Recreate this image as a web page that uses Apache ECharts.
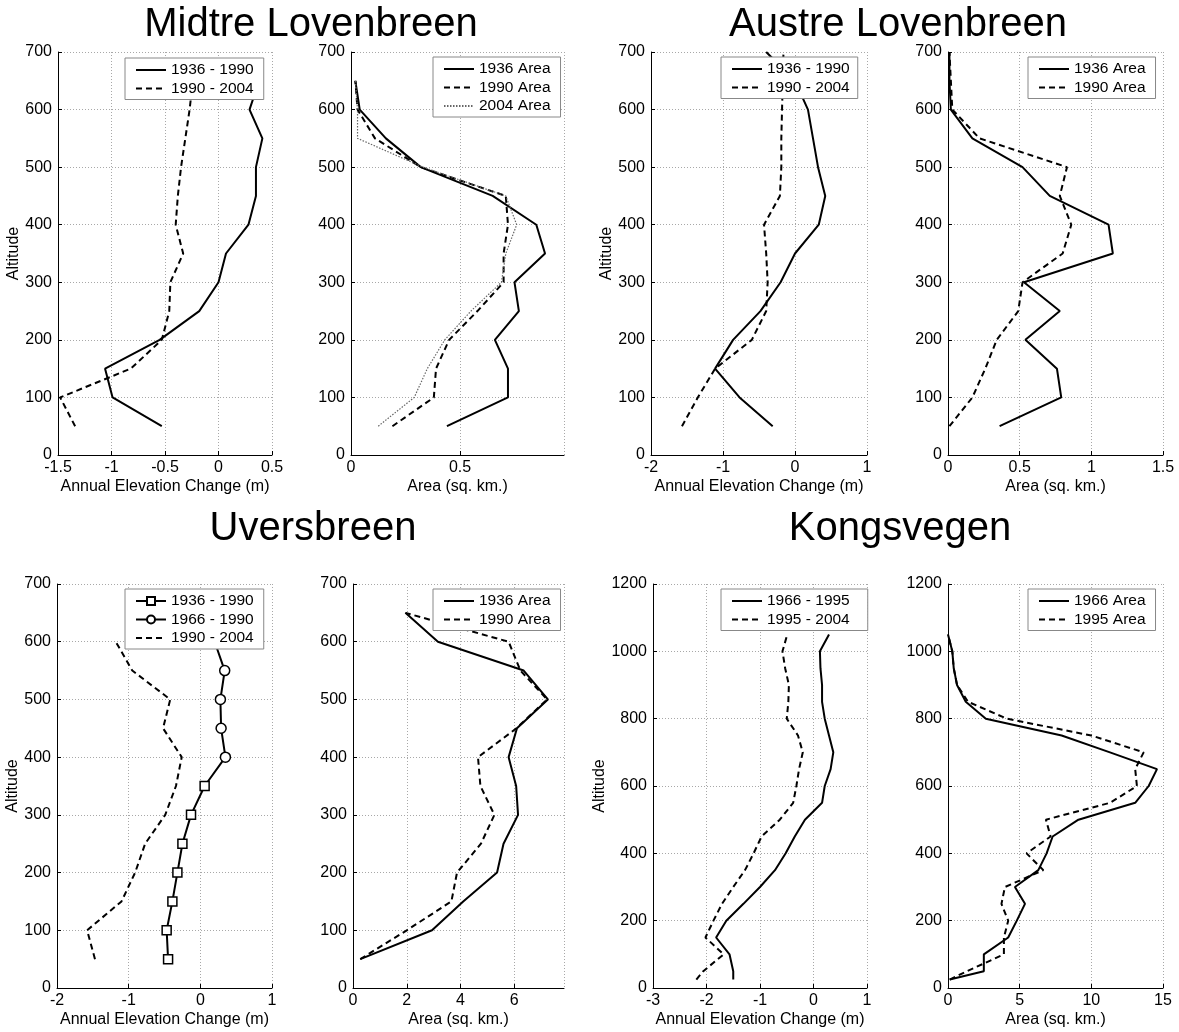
<!DOCTYPE html>
<html>
<head>
<meta charset="utf-8">
<title>Glacier elevation change and area by altitude</title>
<script src="https://cdn.jsdelivr.net/npm/echarts@6/dist/echarts.min.js"></script>
<style>
  html, body { margin: 0; padding: 0; background: #fff; }
  #chart { width: 1179px; height: 1032px; }
</style>
</head>
<body>
<div id="chart"></div>
<script>
// ---- Midtre Lovenbreen ----
const midtreAlt = [50, 100, 150, 200, 250, 300, 350, 400, 450, 500, 550, 600, 650];
const midtreDh1936_1990 = [-0.53, -0.99, -1.06, -0.55, -0.18, 0.0, 0.07, 0.28, 0.35, 0.35, 0.41, 0.29, 0.38];
const midtreDh1990_2004 = [-1.34, -1.48, -0.82, -0.53, -0.46, -0.45, -0.33, -0.40, -0.38, -0.35, -0.31, -0.27, -0.24];
const midtreArea1936 = [0.44, 0.72, 0.72, 0.66, 0.77, 0.75, 0.89, 0.85, 0.65, 0.32, 0.16, 0.04, 0.02];
const midtreArea1990 = [0.19, 0.38, 0.39, 0.45, 0.58, 0.70, 0.70, 0.72, 0.71, 0.32, 0.11, 0.03, 0.02];
const midtreArea2004 = [0.125, 0.29, 0.35, 0.43, 0.55, 0.69, 0.71, 0.76, 0.71, 0.33, 0.03, 0.03, 0.02];

// ---- Austre Lovenbreen ----
const austreAlt = [50, 100, 150, 200, 250, 300, 350, 400, 450, 500, 550, 600, 650, 700];
const austreDh1936_1990 = [-0.31, -0.77, -1.11, -0.86, -0.48, -0.20, 0.0, 0.33, 0.42, 0.32, 0.25, 0.18, 0.0, -0.40];
const austreDh1990_2004 = [-1.57, -1.35, -1.11, -0.60, -0.40, -0.38, -0.40, -0.43, -0.21, -0.19, -0.19, -0.18, -0.17, -0.16];
const austreArea1936 = [0.36, 0.79, 0.76, 0.54, 0.78, 0.53, 1.15, 1.12, 0.71, 0.52, 0.17, 0.02, 0.01, 0.01];
const austreArea1990 = [0.01, 0.17, 0.26, 0.34, 0.49, 0.52, 0.80, 0.86, 0.78, 0.83, 0.22, 0.03, 0.02, 0.01];

// ---- Uversbreen ----
const uversAlt1936 = [50, 100, 150, 200, 250, 300, 350];
const uversDh1936_1990 = [-0.45, -0.47, -0.39, -0.32, -0.25, -0.13, 0.06];
const uversAlt1966 = [350, 400, 450, 500, 550, 600];
const uversDh1966_1990 = [0.06, 0.35, 0.29, 0.28, 0.34, 0.20];
const uversAlt1990 = [50, 100, 150, 200, 250, 300, 350, 400, 450, 500, 550, 600];
const uversDh1990_2004 = [-1.47, -1.58, -1.10, -0.91, -0.77, -0.49, -0.34, -0.26, -0.52, -0.42, -0.95, -1.18];
const uversAreaAlt = [50, 100, 150, 200, 250, 300, 350, 400, 450, 500, 550, 600, 650];
const uversArea1936 = [0.27, 2.94, 4.1, 5.36, 5.6, 6.14, 6.07, 5.79, 6.1, 7.25, 6.35, 3.16, 1.95];
const uversArea1990 = [0.27, 2.0, 3.66, 3.87, 4.76, 5.26, 4.74, 4.65, 6.08, 7.22, 6.23, 5.79, 1.95];

// ---- Kongsvegen ----
const kongAlt = [25, 50, 100, 150, 200, 250, 300, 350, 400, 450, 500, 550, 600, 650, 700, 750, 800, 850, 900, 950, 1000, 1050];
const kongDh1966_1995 = [-1.50, -1.50, -1.57, -1.82, -1.63, -1.31, -1.0, -0.72, -0.52, -0.35, -0.16, 0.16, 0.21, 0.32, 0.37, 0.29, 0.21, 0.16, 0.16, 0.13, 0.12, 0.29];
const kongDh1995_2004 = [-2.19, -2.06, -1.68, -2.02, -1.87, -1.71, -1.50, -1.28, -1.12, -0.97, -0.63, -0.38, -0.32, -0.27, -0.20, -0.29, -0.50, -0.47, -0.46, -0.53, -0.58, -0.49];
const kongArea1966 = [0.12, 2.5, 2.5, 4.2, 4.8, 5.37, 4.67, 6.3, 6.88, 7.3, 9.1, 13.06, 14.0, 14.58, 11.3, 7.93, 2.64, 1.24, 0.63, 0.4, 0.3, 0.0];
const kongArea1995 = [0.12, 1.33, 3.9, 3.9, 4.2, 3.73, 3.97, 6.65, 5.48, 7.16, 6.83, 11.3, 13.18, 13.06, 13.65, 10.0, 4.1, 1.4, 0.63, 0.4, 0.3, 0.0];

// ---- Titles and axis names ----
const glacierTitles = ['Midtre Lovenbreen', 'Austre Lovenbreen', 'Uversbreen', 'Kongsvegen'];
const elevName = 'Annual Elevation Change (m)';
const areaName = 'Area (sq. km.)';
const altName = 'Altitude';

const FONT = '"Liberation Sans", Arial, Helvetica, sans-serif';
const LABEL_SIZE = 16;
const LEGEND_SIZE = 15.5;

function pairs(alts, vals) { return alts.map((y, i) => [vals[i], y]); }

// Panel layout: plot rectangles and axis ranges
const panels = [
  { grid: { left: 58,  top: 52,  width: 214, height: 403 }, x: { min: -1.5, max: 0.5, interval: 0.5, name: elevName }, y: { max: 700, interval: 100, name: altName, gap: 35 } },
  { grid: { left: 351, top: 52,  width: 213, height: 403 }, x: { min: 0, max: 0.977, interval: 0.5, name: areaName, hideMax: true }, y: { max: 700, interval: 100 } },
  { grid: { left: 651, top: 52,  width: 216, height: 403 }, x: { min: -2, max: 1, interval: 1, name: elevName }, y: { max: 700, interval: 100, name: altName, gap: 33 } },
  { grid: { left: 948, top: 52,  width: 215, height: 403 }, x: { min: 0, max: 1.5, interval: 0.5, name: areaName }, y: { max: 700, interval: 100 } },
  { grid: { left: 57,  top: 584, width: 215, height: 404 }, x: { min: -2, max: 1, interval: 1, name: elevName }, y: { max: 700, interval: 100, name: altName, gap: 35 } },
  { grid: { left: 353, top: 584, width: 211, height: 404 }, x: { min: 0, max: 7.85, interval: 2, name: areaName, hideMax: true }, y: { max: 700, interval: 100 } },
  { grid: { left: 653, top: 584, width: 214, height: 404 }, x: { min: -3, max: 1, interval: 1, name: elevName }, y: { max: 1200, interval: 200, name: altName, gap: 43 } },
  { grid: { left: 948, top: 584, width: 215, height: 404 }, x: { min: 0, max: 15, interval: 5, name: areaName }, y: { max: 1200, interval: 200 } }
];

const axisCommon = {
  type: 'value',
  axisLine: { show: true, onZero: false, lineStyle: { color: '#000', width: 1 } },
  axisTick: { show: true, inside: true, length: 4, lineStyle: { color: '#000' } },
  splitLine: { show: true, lineStyle: { color: '#a8a8a8', type: [1, 2], width: 1 } },
  nameTextStyle: { color: '#000', fontSize: LABEL_SIZE, fontFamily: FONT }
};

const plainNumber = v => String(v);

const grid = panels.map(p => Object.assign({ containLabel: false }, p.grid));

const xAxis = panels.map((p, i) => Object.assign({}, axisCommon, {
  gridIndex: i, min: p.x.min, max: p.x.max, interval: p.x.interval,
  name: p.x.name, nameLocation: 'middle', nameGap: 24,
  axisLabel: { color: '#000', fontSize: LABEL_SIZE, fontFamily: FONT, margin: 5,
               showMaxLabel: !p.x.hideMax, formatter: plainNumber }
}));

const yAxis = panels.map((p, i) => Object.assign({}, axisCommon, {
  gridIndex: i, min: 0, max: p.y.max, interval: p.y.interval,
  name: p.y.name || '', nameLocation: 'middle', nameGap: p.y.gap || 30, nameRotate: 90,
  axisLabel: { color: '#000', fontSize: LABEL_SIZE, fontFamily: FONT, margin: 6, formatter: plainNumber }
}));

const SOLID = { color: '#000', width: 2, type: 'solid' };
const DASHED = { color: '#000', width: 2, type: [6, 4] };
const DOTTED = { color: '#666', width: 1.2, type: [1.5, 1.5] };

function line(name, idx, data, lineStyle, extra) {
  return Object.assign({
    type: 'line', name: name, xAxisIndex: idx, yAxisIndex: idx,
    data: data, symbol: 'none', lineStyle: lineStyle,
    itemStyle: { color: lineStyle.color },
    animation: false, silent: true, z: 3
  }, extra || {});
}

const markerStyle = { color: '#fff', borderColor: '#000', borderWidth: 1.5 };

// The 1966-1990 profile joins the 1936-1990 profile at its lowest point, drawn without a marker
const uvers1966Data = pairs(uversAlt1966, uversDh1966_1990);
uvers1966Data[0] = { value: uvers1966Data[0], symbol: 'none' };

const series = [
  line('midtre-dh|1936 - 1990', 0, pairs(midtreAlt, midtreDh1936_1990), SOLID),
  line('midtre-dh|1990 - 2004', 0, pairs(midtreAlt, midtreDh1990_2004), DASHED),
  line('midtre-a|1936 Area', 1, pairs(midtreAlt, midtreArea1936), SOLID),
  line('midtre-a|1990 Area', 1, pairs(midtreAlt, midtreArea1990), DASHED),
  line('midtre-a|2004 Area', 1, pairs(midtreAlt, midtreArea2004), DOTTED),
  line('austre-dh|1936 - 1990', 2, pairs(austreAlt, austreDh1936_1990), SOLID),
  line('austre-dh|1990 - 2004', 2, pairs(austreAlt, austreDh1990_2004), DASHED),
  line('austre-a|1936 Area', 3, pairs(austreAlt, austreArea1936), SOLID),
  line('austre-a|1990 Area', 3, pairs(austreAlt, austreArea1990), DASHED),
  line('uvers-dh|1936 - 1990', 4, pairs(uversAlt1936, uversDh1936_1990), SOLID,
       { symbol: 'rect', symbolSize: 9, showSymbol: true, itemStyle: markerStyle, z: 4 }),
  line('uvers-dh|1966 - 1990', 4, uvers1966Data, SOLID,
       { symbol: 'circle', symbolSize: 10, showSymbol: true, itemStyle: markerStyle, z: 4 }),
  line('uvers-dh|1990 - 2004', 4, pairs(uversAlt1990, uversDh1990_2004), DASHED),
  line('uvers-a|1936 Area', 5, pairs(uversAreaAlt, uversArea1936), SOLID),
  line('uvers-a|1990 Area', 5, pairs(uversAreaAlt, uversArea1990), DASHED),
  line('kong-dh|1966 - 1995', 6, pairs(kongAlt, kongDh1966_1995), SOLID),
  line('kong-dh|1995 - 2004', 6, pairs(kongAlt, kongDh1995_2004), DASHED),
  line('kong-a|1966 Area', 7, pairs(kongAlt, kongArea1966), SOLID),
  line('kong-a|1995 Area', 7, pairs(kongAlt, kongArea1995), DASHED)
];

// Legend entries: plain line samples hide the marker, marker series keep it
const hiddenMarker = { color: 'rgba(0,0,0,0)', borderColor: 'rgba(0,0,0,0)', borderWidth: 0, opacity: 0 };

function legend(left, top, prefix, padRight) {
  return {
    left: left, top: top, orient: 'vertical',
    data: series.filter(s => s.name.startsWith(prefix + '|')).map(s => (
      s.symbol === 'none' ? { name: s.name, itemStyle: hiddenMarker } : { name: s.name }
    )),
    formatter: n => n.split('|')[1],
    padding: [4, padRight, 3, 10], itemGap: 2.5, itemWidth: 30, itemHeight: 10,
    backgroundColor: '#fff', borderColor: '#888', borderWidth: 1, borderRadius: 0,
    textStyle: { color: '#000', fontSize: LEGEND_SIZE, fontFamily: FONT },
    selectedMode: false, z: 10
  };
}

const titleStyle = { color: '#000', fontSize: 40, fontWeight: 'normal', fontFamily: FONT };

const option = {
  backgroundColor: '#fff',
  animation: false,
  title: [
    { text: glacierTitles[0], left: 311, top: 5, textAlign: 'center', textStyle: titleStyle, padding: 0 },
    { text: glacierTitles[1], left: 898, top: 5, textAlign: 'center', textStyle: titleStyle, padding: 0 },
    { text: glacierTitles[2], left: 313, top: 509, textAlign: 'center', textStyle: titleStyle, padding: 0 },
    { text: glacierTitles[3], left: 900, top: 509, textAlign: 'center', textStyle: titleStyle, padding: 0 }
  ],
  grid: grid,
  xAxis: xAxis,
  yAxis: yAxis,
  legend: [
    legend(125, 58, 'midtre-dh', 10),
    legend(433, 57, 'midtre-a', 10),
    legend(721, 57, 'austre-dh', 8),
    legend(1028, 57, 'austre-a', 10),
    legend(125, 589, 'uvers-dh', 10),
    legend(433, 589, 'uvers-a', 10),
    legend(721, 589, 'kong-dh', 18),
    legend(1028, 589, 'kong-a', 10)
  ],
  series: series
};

const chart = echarts.init(document.getElementById('chart'), null, { renderer: 'canvas' });
chart.setOption(option);
</script>
</body>
</html>
